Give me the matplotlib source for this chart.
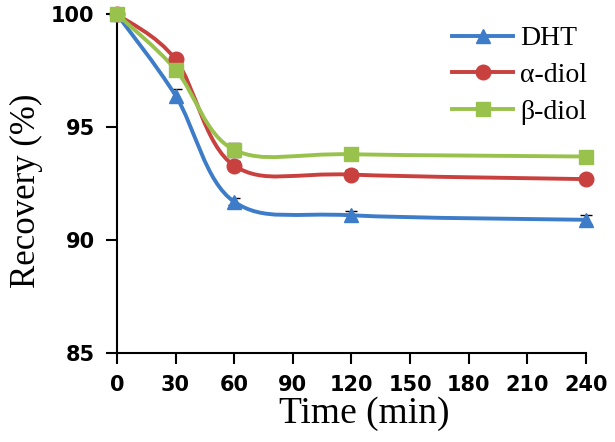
import matplotlib
matplotlib.use("Agg")
import matplotlib.pyplot as plt
from matplotlib.lines import Line2D
from matplotlib.patches import PathPatch
from matplotlib.path import Path

time_min = [0, 30, 60, 120, 240]
dht = [100.0, 96.4, 91.7, 91.1, 90.9]
alpha_diol = [100.0, 98.0, 93.3, 92.9, 92.7]
beta_diol = [100.0, 97.55, 94.0, 93.8, 93.7]
dht_err = [0.0, 0.3, 0.15, 0.2, 0.2]
alpha_err = [0.0, 0.1, 0.2, 0.2, 0.1]
beta_err = [0.0, 0.1, 0.3, 0.15, 0.25]
x_ticks = [0, 30, 60, 90, 120, 150, 180, 210, 240]
y_ticks = [85, 90, 95, 100]

series = [
    ("DHT", dht, dht_err, "#3D7CC9", "^", 10.5),
    ("\u03b1-diol", alpha_diol, alpha_err, "#C9413F", "o", 10.5),
    ("\u03b2-diol", beta_diol, beta_err, "#99C24D", "s", 10),
]


def smooth_path(xs, ys):
    # Catmull-Rom style bezier, like spreadsheet "smoothed line"
    pts = list(zip(xs, ys))
    verts = [pts[0]]
    codes = [Path.MOVETO]
    n = len(pts)
    for i in range(n - 1):
        p0 = pts[max(i - 1, 0)]
        p1 = pts[i]
        p2 = pts[i + 1]
        p3 = pts[min(i + 2, n - 1)]
        c1 = (p1[0] + (p2[0] - p0[0]) / 6, p1[1] + (p2[1] - p0[1]) / 6)
        c2 = (p2[0] - (p3[0] - p1[0]) / 6, p2[1] - (p3[1] - p1[1]) / 6)
        verts += [c1, c2, p2]
        codes += [Path.CURVE4] * 3
    return Path(verts, codes)


fig = plt.figure(figsize=(6.15, 4.42), dpi=100)
ax = fig.add_axes([0.190, 0.201, 0.763, 0.767])

handles = []
for label, values, err, color, marker, ms in series:
    ax.errorbar(time_min, values, yerr=err, fmt="none", ecolor="black",
                elinewidth=1.0, capsize=4, capthick=1.0, zorder=2, clip_on=False)
    patch = PathPatch(smooth_path(time_min, values), transform=ax.transData,
                      facecolor="none", edgecolor=color, lw=2.8, zorder=3,
                      clip_on=False)
    ax.add_patch(patch)
    ax.plot(time_min, values, ls="none", marker=marker, ms=ms, color=color,
            zorder=4, clip_on=False)
    handles.append(Line2D([], [], color=color, lw=2.8, marker=marker, ms=ms,
                          label=label))

ax.set_xlim(0, 240)
ax.set_ylim(85, 100)
ax.set_xticks(x_ticks)
ax.set_yticks(y_ticks)
ax.spines["top"].set_visible(False)
ax.spines["right"].set_visible(False)
for s in ("left", "bottom"):
    ax.spines[s].set_linewidth(1.5)
ax.tick_params(axis="both", direction="out", length=8, width=1.5, pad=8)
for lab in ax.get_xticklabels() + ax.get_yticklabels():
    lab.set_fontsize(15)
    lab.set_fontweight("bold")
    lab.set_family("DejaVu Sans")

ax.set_xlabel("Time (min)", family="Liberation Serif", fontsize=27, labelpad=1)
ax.set_ylabel("Recovery (%)", family="Liberation Serif", fontsize=25, labelpad=6)
ax.xaxis.label.set_x(0.527)
ax.yaxis.label.set_y(0.48)

leg = ax.legend(handles=handles, loc="upper left",
                bbox_to_anchor=(452 / 615, 1 - 26 / 442),
                bbox_transform=fig.transFigure, borderaxespad=0, borderpad=0,
                frameon=False, handlelength=2.2, handletextpad=0.25,
                labelspacing=0.4, prop={"family": "Liberation Serif", "size": 20})

fig.savefig("out.png", dpi=100)
